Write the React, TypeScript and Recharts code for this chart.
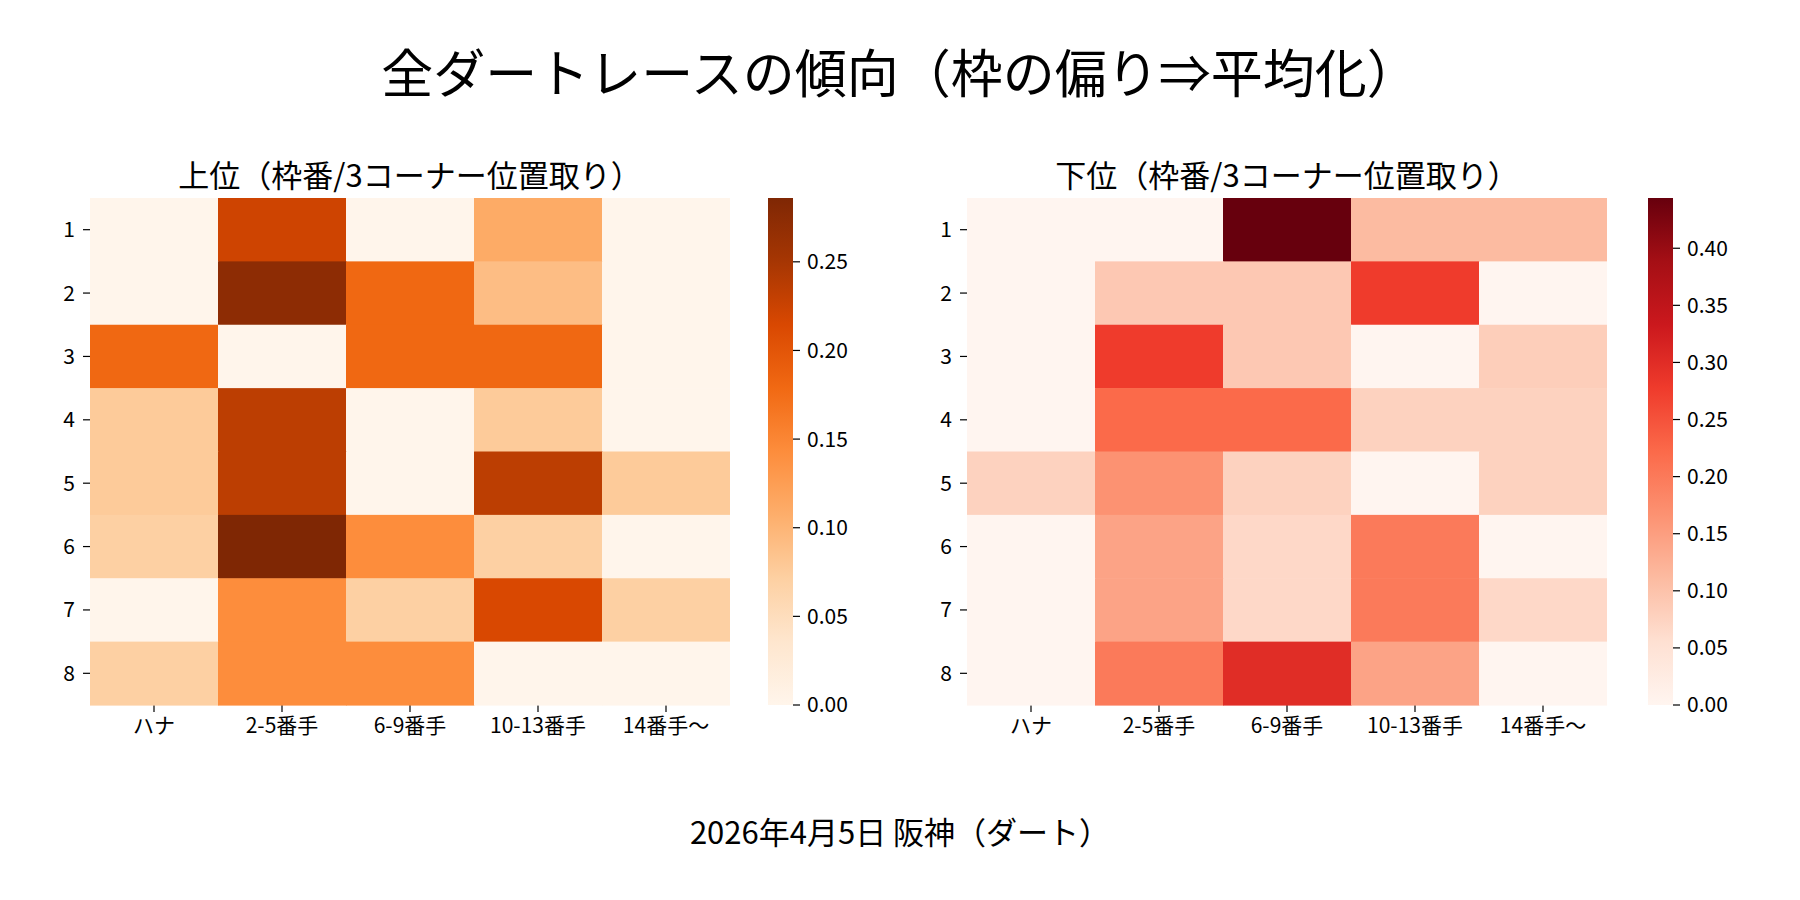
import React from 'react';
import { ScatterChart, Scatter, XAxis, YAxis, BarChart, Bar } from 'recharts';

// 3コーナー位置取り (columns) and 枠番 (rows)
const positions = ['ハナ', '2-5番手', '6-9番手', '10-13番手', '14番手〜'];
const gates = ['1', '2', '3', '4', '5', '6', '7', '8'];

// 上位 (top finishers) share per gate / position
const topValues = [
  [0, 0.222, 0, 0.111, 0],
  [0, 0.273, 0.18, 0.091, 0],
  [0.18, 0, 0.18, 0.18, 0],
  [0.077, 0.235, 0, 0.077, 0],
  [0.077, 0.235, 0, 0.235, 0.077],
  [0.071, 0.286, 0.143, 0.071, 0],
  [0, 0.143, 0.071, 0.214, 0.071],
  [0.071, 0.143, 0.143, 0, 0],
];

// 下位 (bottom finishers)
const bottomValues = [
  [0, 0, 0.444, 0.111, 0.111],
  [0, 0.091, 0.091, 0.278, 0],
  [0, 0.278, 0.091, 0, 0.083],
  [0, 0.222, 0.222, 0.077, 0.077],
  [0.077, 0.167, 0.077, 0, 0.077],
  [0, 0.143, 0.067, 0.2, 0],
  [0, 0.143, 0.067, 0.2, 0.067],
  [0, 0.2, 0.3, 0.143, 0],
];

const topTicks = [0, 0.05, 0.1, 0.15, 0.2, 0.25];
const bottomTicks = [0, 0.05, 0.1, 0.15, 0.2, 0.25, 0.3, 0.35, 0.4];

// matplotlib Oranges / Reds
const ORANGES = ['#fff5eb', '#fee6ce', '#fdd0a2', '#fdae6b', '#fd8d3c', '#f16913', '#d94801', '#a63603', '#7f2704'];
const REDS = ['#fff5f0', '#fee0d2', '#fcbba1', '#fc9272', '#fb6a4a', '#ef3b2c', '#cb181d', '#a50f15', '#67000d'];

const FONT = '"Noto Sans CJK JP", "Noto Sans", sans-serif';
const PLOT_W = 640;
const PLOT_H = 507;
const CELL_W = PLOT_W / positions.length;
const CELL_H = PLOT_H / gates.length;
const CB_PAD = 14;

const hex = (c: string) => [1, 3, 5].map((i) => parseInt(c.slice(i, i + 2), 16));

function cmap(stops: string[], t: number) {
  const tt = Math.max(0, Math.min(1, t)) * (stops.length - 1);
  const i = Math.min(Math.floor(tt), stops.length - 2);
  const f = tt - i;
  const a = hex(stops[i]);
  const b = hex(stops[i + 1]);
  const rgb = a.map((v, k) => Math.round(v + (b[k] - v) * f));
  return `rgb(${rgb.join(',')})`;
}

const toCells = (values: number[][]) =>
  values.flatMap((row, r) => row.map((v, c) => ({ x: c + 0.5, y: r + 0.5, v })));

const tickStyle = { fill: '#000', fontSize: 21, fontFamily: FONT };

function Heatmap({ values, colors, left, top }: { values: number[][]; colors: string[]; left: number; top: number }) {
  const cells = toCells(values);
  const vmax = Math.max(...values.flat());
  const shape = (p: any) => (
    <rect
      x={p.cx - CELL_W / 2}
      y={p.cy - CELL_H / 2}
      width={CELL_W + 0.6}
      height={CELL_H + 0.6}
      fill={cmap(colors, p.payload.v / vmax)}
    />
  );
  return (
    <div style={{ position: 'absolute', left, top }}>
      <ScatterChart width={PLOT_W + 60} height={PLOT_H + 50} margin={{ top: 0, right: 0, left: 0, bottom: 0 }}>
        <XAxis
          type="number"
          dataKey="x"
          domain={[0, positions.length]}
          ticks={positions.map((_, i) => i + 0.5)}
          tickFormatter={(t: number) => positions[Math.floor(t)]}
          interval={0}
          height={50}
          axisLine={false}
          tickLine={{ stroke: '#000', strokeWidth: 1.2 }}
          tickSize={7}
          tickMargin={6}
          tick={tickStyle}
        />
        <YAxis
          type="number"
          dataKey="y"
          reversed
          domain={[0, gates.length]}
          ticks={gates.map((_, i) => i + 0.5)}
          tickFormatter={(t: number) => gates[Math.floor(t)]}
          interval={0}
          width={60}
          axisLine={false}
          tickLine={{ stroke: '#000', strokeWidth: 1.2 }}
          tickSize={7}
          tickMargin={8}
          tick={tickStyle}
        />
        <Scatter data={cells} shape={shape} isAnimationActive={false} />
      </ScatterChart>
    </div>
  );
}

function Colorbar({ values, colors, ticks, id, left, top }: { values: number[][]; colors: string[]; ticks: number[]; id: string; left: number; top: number }) {
  const vmax = Math.max(...values.flat());
  return (
    <div style={{ position: 'absolute', left, top: top - CB_PAD }}>
      <BarChart
        width={25 + 80}
        height={PLOT_H + CB_PAD * 2}
        data={[{ v: vmax }]}
        margin={{ top: CB_PAD, right: 0, left: 0, bottom: CB_PAD }}
        barCategoryGap={0}
      >
        <defs>
          <linearGradient id={id} x1="0" y1="1" x2="0" y2="0">
            {colors.map((c, i) => (
              <stop key={i} offset={i / (colors.length - 1)} stopColor={c} />
            ))}
          </linearGradient>
        </defs>
        <XAxis hide height={0} />
        <YAxis
          orientation="right"
          type="number"
          domain={[0, vmax]}
          ticks={ticks}
          interval={0}
          width={80}
          axisLine={false}
          tickLine={{ stroke: '#000', strokeWidth: 1.2 }}
          tickSize={7}
          tickMargin={7}
          tick={{ ...tickStyle, textAnchor: 'start' }}
          tickFormatter={(t: number) => t.toFixed(2)}
        />
        <Bar dataKey="v" fill={`url(#${id})`} isAnimationActive={false} />
      </BarChart>
    </div>
  );
}

const textStyle = (left: number, top: number, width: number, size: number): React.CSSProperties => ({
  position: 'absolute',
  left,
  top,
  width,
  textAlign: 'center',
  fontSize: size,
  lineHeight: `${size + 10}px`,
  fontFamily: FONT,
  color: '#000',
  whiteSpace: 'nowrap',
});

export default function App() {
  return (
    <div style={{ position: 'absolute', left: 0, top: 0, width: 1800, height: 900, background: '#fff', overflow: 'hidden' }}>
      <div style={textStyle(0, 40, 1800, 52)}>全ダートレースの傾向（枠の偏り⇒平均化）</div>
      <div style={textStyle(110, 153, 600, 31)}>上位（枠番/3コーナー位置取り）</div>
      <div style={textStyle(987, 153, 600, 31)}>下位（枠番/3コーナー位置取り）</div>

      <Heatmap values={topValues} colors={ORANGES} left={30} top={198} />
      <Colorbar values={topValues} colors={ORANGES} ticks={topTicks} id="gradTop" left={768} top={198} />

      <Heatmap values={bottomValues} colors={REDS} left={907} top={198} />
      <Colorbar values={bottomValues} colors={REDS} ticks={bottomTicks} id="gradBottom" left={1648} top={198} />

      <div style={textStyle(0, 810, 1800, 31)}>2026年4月5日 阪神（ダート）</div>
    </div>
  );
}
